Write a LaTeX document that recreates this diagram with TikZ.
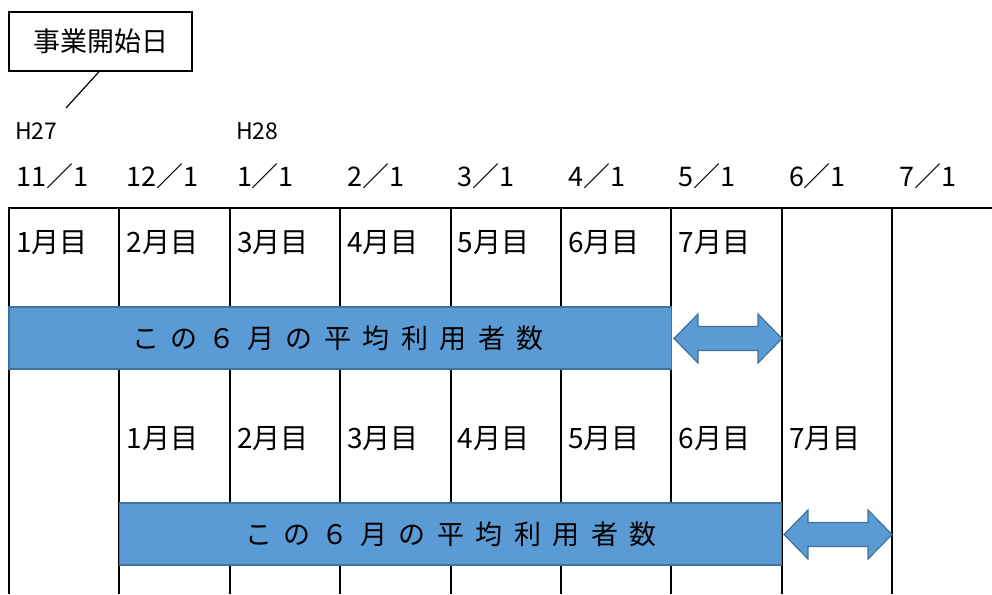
\documentclass[tikz,border=0pt]{standalone}
\usepackage{fontspec}
\setmainfont{Noto Sans CJK JP}
\definecolor{barfill}{HTML}{5B9BD5}
\definecolor{barline}{HTML}{41719C}
\begin{document}
\begin{tikzpicture}[x=1pt,y=-1pt,
  gridline/.style={line width=2pt, black},
  bar/.style={fill=barfill, draw=barline, line width=1.2pt},
  arr/.style={fill=barfill, draw=barline, line width=1.2pt, line join=miter},
  month/.style={anchor=base west, inner sep=0pt, font=\fontsize{28}{32}\selectfont},
  datelbl/.style={anchor=base west, inner sep=0pt, font=\fontsize{27}{31}\selectfont},
  era/.style={anchor=base west, inner sep=0pt, font=\fontsize{23}{27}\selectfont},
  bartxt/.style={inner sep=0pt, font=\fontsize{27}{31}\selectfont},
  callout/.style={draw, line width=1.5pt, minimum width=183pt, minimum height=59pt, inner sep=0pt, font=\fontsize{27}{31}\selectfont}]
\useasboundingbox (0,0) rectangle (992,594);
\def\g{\hspace{11.5pt}}
% grid
\foreach \i in {0,...,8}
  \draw[gridline] ({9+110.4*\i},208) -- ({9+110.4*\i},594);
\draw[gridline] (8,208) -- (992,208);
% callout
\node[callout] (start) at (100.5,41.5) {事業開始日};
\coordinate (leadend) at (66,108);
\draw[line width=1.2pt] ([xshift=-1.5pt]start.south) -- (leadend);
% era labels
\node[era] (h27) at (15,139) {H27};
\node[era] (h28) at (236,139) {H28};
% dates
\foreach \i/\t in {0/11／1,1/12／1,2/1／1,3/2／1,4/3／1,5/4／1,6/5／1,7/6／1,8/7／1}
  \node[datelbl] (d\i) at ({9+110.4*\i+7},186) {\t};
% months row 1
\foreach \i in {0,...,6}
  \node[month] (ma\i) at ({9+110.4*\i+7},252) {\the\numexpr\i+1\relax 月目};
% months row 2
\foreach \i in {1,...,7}
  \node[month] (mb\i) at ({9+110.4*\i+7},448) {\the\numexpr\i\relax 月目};
% bars
\draw[bar] (9,307) rectangle (671.4,369);
\node[bartxt] (t1) at (338,338) {こ\g の\g ６\g 月\g の\g 平\g 均\g 利\g 用\g 者\g 数};
\draw[bar] (119.4,503) rectangle (781.8,565);
\node[bartxt] (t2) at (451,534) {こ\g の\g ６\g 月\g の\g 平\g 均\g 利\g 用\g 者\g 数};
% arrows
\draw[arr] (674,338.5) -- (698,314) -- (698,326.5) -- (758,326.5) -- (758,314) -- (782,338.5) -- (758,363) -- (758,350.5) -- (698,350.5) -- (698,363) -- cycle;
\draw[arr] (784,534.5) -- (808,510) -- (808,522.5) -- (868,522.5) -- (868,510) -- (892,534.5) -- (868,559) -- (868,546.5) -- (808,546.5) -- (808,559) -- cycle;
\end{tikzpicture}
\end{document}
